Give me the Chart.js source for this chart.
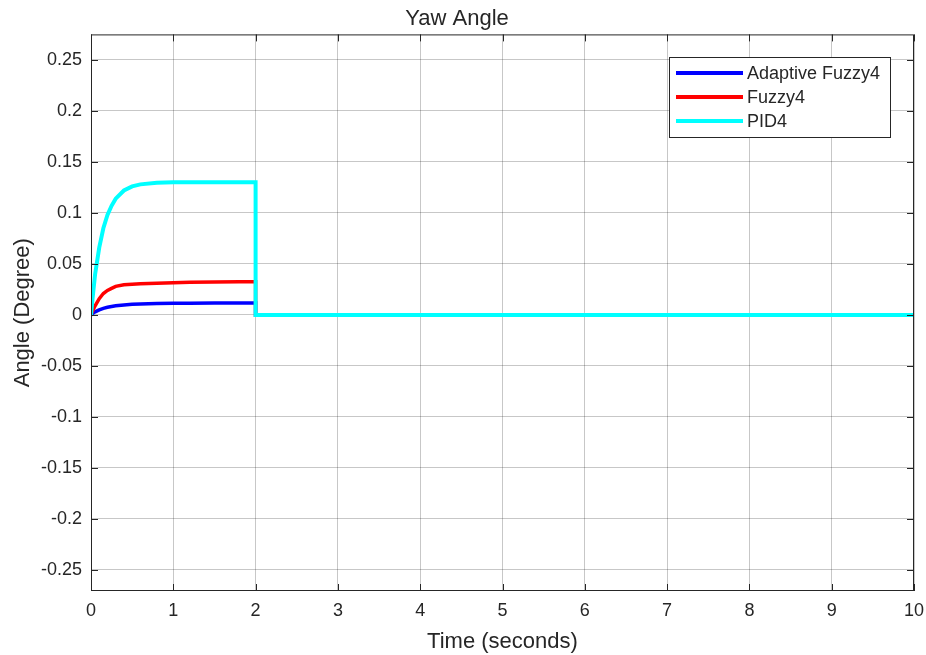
<!DOCTYPE html>
<html>
<head>
<meta charset="utf-8">
<title>Yaw Angle</title>
<script src="https://cdn.jsdelivr.net/npm/chart.js@4"></script>
<style>
  html, body { margin: 0; padding: 0; background: #fff; }
  #wrap { width: 926px; height: 655px; }
</style>
</head>
<body>
<div id="wrap"><canvas id="yawChart" width="926" height="655"></canvas></div>
<script>
// time samples (seconds); the step at t = 2 is written twice
const times = [0, 0.02, 0.05, 0.1, 0.15, 0.2, 0.25, 0.3, 0.4, 0.5, 0.6, 0.8, 1.0, 1.2, 1.5, 1.8, 2.0, 2.0, 10];

// series values (degrees)
const adaptiveFuzzy4 = [0, 0.0015, 0.003, 0.005, 0.0065, 0.0075, 0.0083, 0.009, 0.0098, 0.0104, 0.0108, 0.0112, 0.0114, 0.0115, 0.0116, 0.0117, 0.0117, 0, 0];
const fuzzy4 = [0, 0.004, 0.009, 0.016, 0.021, 0.024, 0.026, 0.028, 0.0295, 0.030, 0.0305, 0.031, 0.0315, 0.032, 0.0322, 0.0325, 0.0325, 0, 0];
const pid4 = [0, 0.017, 0.040, 0.066, 0.085, 0.098, 0.107, 0.114, 0.122, 0.126, 0.128, 0.1295, 0.13, 0.13, 0.13, 0.13, 0.13, 0, 0];

const seriesNames = ["Adaptive Fuzzy4", "Fuzzy4", "PID4"];
const xTicks = [0, 1, 2, 3, 4, 5, 6, 7, 8, 9, 10];
const yTicks = [-0.25, -0.2, -0.15, -0.1, -0.05, 0, 0.05, 0.1, 0.15, 0.2, 0.25];

const textColor = "#262626";
const fontFamily = "'Liberation Sans', Arial, Helvetica, sans-serif";

function toPoints(values) {
  return times.map((t, i) => ({ x: t, y: values[i] }));
}

// box round the axes plus inward tick marks, MATLAB style
const axesBox = {
  id: "axesBox",
  afterDraw(chart) {
    const { ctx, chartArea: a, scales } = chart;
    const len = 7;
    ctx.save();
    ctx.strokeStyle = textColor;
    ctx.lineWidth = 1;
    ctx.strokeRect(a.left + 0.5, a.top + 0.5, a.right - a.left - 1, a.bottom - a.top - 1);
    ctx.beginPath();
    xTicks.forEach((v) => {
      const px = Math.round(scales.x.getPixelForValue(v)) + 0.5;
      ctx.moveTo(px, a.bottom);
      ctx.lineTo(px, a.bottom - len);
      ctx.moveTo(px, a.top);
      ctx.lineTo(px, a.top + len);
    });
    yTicks.forEach((v) => {
      const py = Math.round(scales.y.getPixelForValue(v)) + 0.5;
      ctx.moveTo(a.left, py);
      ctx.lineTo(a.left + len, py);
      ctx.moveTo(a.right, py);
      ctx.lineTo(a.right - len, py);
    });
    ctx.stroke();
    ctx.restore();
  },
};

// legend drawn inside the plot, top right
const insideLegend = {
  id: "insideLegend",
  afterDraw(chart) {
    const { ctx } = chart;
    const x0 = 669, y0 = 57, w = 221, h = 80;
    ctx.save();
    ctx.fillStyle = "#fff";
    ctx.fillRect(x0, y0, w, h);
    ctx.strokeStyle = textColor;
    ctx.lineWidth = 1;
    ctx.strokeRect(x0 + 0.5, y0 + 0.5, w, h);
    ctx.font = "18px " + fontFamily;
    ctx.textBaseline = "middle";
    ctx.fillStyle = textColor;
    chart.data.datasets.forEach((ds, i) => {
      const y = y0 + 16 + i * 24;
      ctx.strokeStyle = ds.borderColor;
      ctx.lineWidth = 4;
      ctx.beginPath();
      ctx.moveTo(x0 + 7, y);
      ctx.lineTo(x0 + 74, y);
      ctx.stroke();
      ctx.fillText(ds.label, x0 + 78, y + 1);
    });
    ctx.restore();
  },
};

const ctx = document.getElementById("yawChart").getContext("2d");
new Chart(ctx, {
  type: "line",
  data: {
    datasets: [
      { label: seriesNames[0], data: toPoints(adaptiveFuzzy4), borderColor: "#0000ff", borderWidth: 3.5, order: 2 },
      { label: seriesNames[1], data: toPoints(fuzzy4), borderColor: "#ff0000", borderWidth: 3.5, order: 1 },
      { label: seriesNames[2], data: toPoints(pid4), borderColor: "#00ffff", borderWidth: 4, order: 0 },
    ],
  },
  options: {
    responsive: false,
    animation: false,
    devicePixelRatio: 1,
    layout: { padding: { top: 0, right: 12, bottom: 0, left: 0 } },
    elements: {
      point: { radius: 0 },
      line: { tension: 0, fill: false, borderJoinStyle: "miter" },
    },
    plugins: {
      legend: { display: false },
      tooltip: { enabled: false },
      title: {
        display: true,
        text: "Yaw Angle",
        color: textColor,
        font: { family: fontFamily, size: 22, weight: "normal" },
        padding: { top: 6, bottom: 2 },
      },
    },
    scales: {
      x: {
        type: "linear",
        min: 0,
        max: 10,
        afterBuildTicks: (scale) => { scale.ticks = xTicks.map((v) => ({ value: v })); },
        afterFit: (scale) => {
          scale.height = 64;
          scale.paddingLeft = 0;
          scale.paddingRight = 0;
        },
        grid: { color: "rgba(0,0,0,0.22)", drawTicks: false },
        border: { display: false },
        ticks: {
          color: textColor,
          padding: 9,
          maxRotation: 0,
          font: { family: fontFamily, size: 18 },
        },
        title: {
          display: true,
          text: "Time (seconds)",
          color: textColor,
          font: { family: fontFamily, size: 22 },
          padding: { top: 0, bottom: 0 },
        },
      },
      y: {
        type: "linear",
        min: -0.2706,
        max: 0.275,
        afterBuildTicks: (scale) => { scale.ticks = yTicks.map((v) => ({ value: v })); },
        afterFit: (scale) => {
          scale.width = 91;
          scale.paddingTop = 0;
          scale.paddingBottom = 0;
        },
        grid: { color: "rgba(0,0,0,0.22)", drawTicks: false },
        border: { display: false },
        ticks: {
          color: textColor,
          padding: 9,
          font: { family: fontFamily, size: 18 },
          callback: (v) => String(Math.round(v * 100) / 100),
        },
        title: {
          display: true,
          text: "Angle (Degree)",
          color: textColor,
          font: { family: fontFamily, size: 22 },
          padding: { top: 10, bottom: 0 },
        },
      },
    },
  },
  plugins: [axesBox, insideLegend],
});
</script>
</body>
</html>
